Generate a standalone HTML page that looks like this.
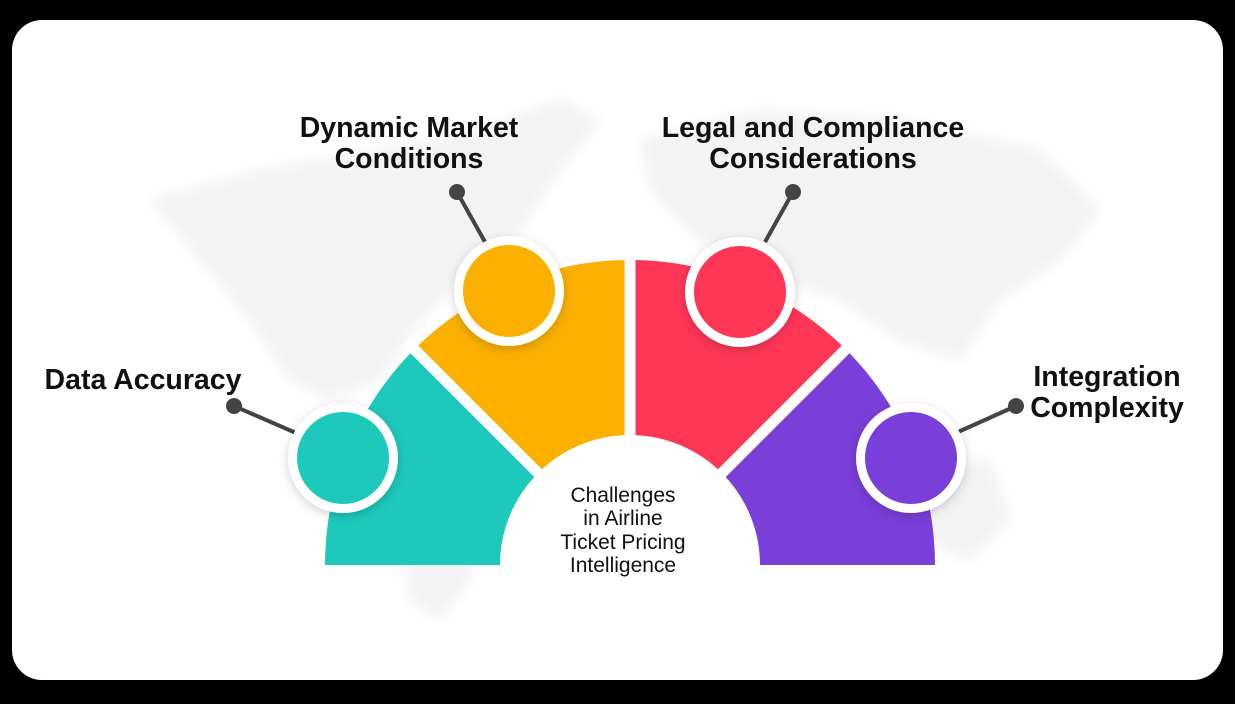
<!DOCTYPE html>
<html><head><style>
html,body{margin:0;padding:0;background:#000;}
body{width:1235px;height:699px;overflow:hidden;font-family:"Liberation Sans",sans-serif;}
</style></head><body>
<svg width="1235" height="699" viewBox="0 0 1235 699" xmlns="http://www.w3.org/2000/svg">
<defs>
<filter id="sh" x="-30%" y="-30%" width="160%" height="160%"><feDropShadow dx="0" dy="3" stdDeviation="5" flood-color="#000" flood-opacity="0.18"/></filter>
<filter id="bl"><feGaussianBlur stdDeviation="6"/></filter>
</defs>
<rect x="12" y="20" width="1211" height="660" rx="30" fill="#fff"/>
<!-- faint world map -->
<g fill="#f3f3f3" filter="url(#bl)">
<path d="M150 200 L260 170 L380 150 L480 130 L560 100 L600 120 L560 170 L520 230 L470 270 L420 320 L380 380 L330 400 L290 380 L250 320 L200 260 Z"/>
<path d="M380 420 L440 440 L480 500 L470 580 L440 620 L410 600 L400 520 L370 460 Z"/>
<path d="M640 140 L760 110 L900 120 L1040 150 L1100 210 L1060 260 L1000 300 L960 360 L900 340 L840 300 L780 280 L700 240 L650 190 Z"/>
<path d="M920 470 L990 460 L1010 520 L970 560 L920 540 Z"/>
</g>
<path d="M500 565 A130 130 0 0 1 760 565 Z" fill="#fff"/>
<!-- segments -->
<g>
<path d="M325 565 A305 305 0 0 1 414.3 349.3 L538.1 473.1 A130 130 0 0 0 500 565 Z" fill="#1cc9bb"/>
<path d="M414.3 349.3 A305 305 0 0 1 630 260 L630 435 A130 130 0 0 0 538.1 473.1 Z" fill="#fbb000"/>
<path d="M630 260 A305 305 0 0 1 845.7 349.3 L721.9 473.1 A130 130 0 0 0 630 435 Z" fill="#fe3656"/>
<path d="M845.7 349.3 A305 305 0 0 1 935 565 L760 565 A130 130 0 0 0 721.9 473.1 Z" fill="#7a3ed9"/>
<g stroke="#fff" stroke-width="11">
<line x1="630" y1="565" x2="630" y2="250"/>
<line x1="630" y1="565" x2="407" y2="342"/>
<line x1="630" y1="565" x2="853" y2="342"/>
</g>
</g>
<!-- connectors -->
<g stroke="#444" stroke-width="4">
<line x1="234" y1="406" x2="296" y2="433"/>
<line x1="457" y1="192" x2="485" y2="242"/>
<line x1="793" y1="192" x2="765" y2="242"/>
<line x1="1016" y1="406" x2="958" y2="432"/>
</g>
<g fill="#444">
<circle cx="234" cy="406" r="8"/><circle cx="457" cy="192" r="8"/>
<circle cx="793" cy="192" r="8"/><circle cx="1016" cy="406" r="8"/>
</g>
<!-- circles -->
<g filter="url(#sh)" fill="#fff">
<circle cx="343" cy="458" r="55"/><circle cx="509" cy="291" r="55"/>
<circle cx="740" cy="292" r="55"/><circle cx="911" cy="458" r="55"/>
</g>
<circle cx="343" cy="458" r="46" fill="#1cc9bb"/>
<circle cx="509" cy="291" r="46" fill="#fbb000"/>
<circle cx="740" cy="292" r="46" fill="#fe3656"/>
<circle cx="911" cy="458" r="46" fill="#7a3ed9"/>
<!-- labels -->
<g font-family="Liberation Sans, sans-serif" font-weight="bold" font-size="28.5" fill="#111">
<text x="143" y="389" text-anchor="middle">Data Accuracy</text>
<text x="409" y="137" text-anchor="middle">Dynamic Market</text>
<text x="409" y="168" text-anchor="middle">Conditions</text>
<text x="813" y="137" text-anchor="middle">Legal and Compliance</text>
<text x="813" y="168" text-anchor="middle">Considerations</text>
<text x="1107" y="386" text-anchor="middle">Integration</text>
<text x="1107" y="417" text-anchor="middle">Complexity</text>
</g>
<g font-family="Liberation Sans, sans-serif" font-size="21" fill="#111" text-anchor="middle">
<text x="623" y="502">Challenges</text>
<text x="623" y="525">in Airline</text>
<text x="623" y="549">Ticket Pricing</text>
<text x="623" y="572">Intelligence</text>
</g>
</svg>
</body></html>
